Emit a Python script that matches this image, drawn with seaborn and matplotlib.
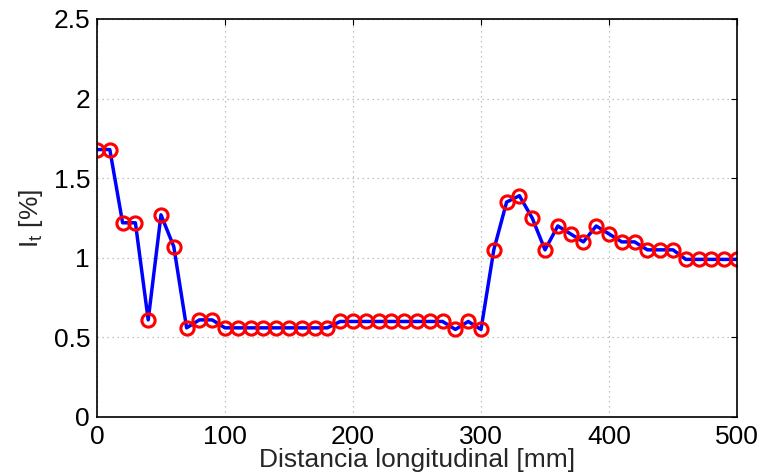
import matplotlib
matplotlib.use("Agg")
import matplotlib.pyplot as plt
import seaborn as sns
import pandas as pd

# Longitudinal distance along the specimen [mm]
distancia = [0, 10, 20, 30, 40, 50, 60, 70, 80, 90,
             100, 110, 120, 130, 140, 150, 160, 170, 180, 190,
             200, 210, 220, 230, 240, 250, 260, 270, 280, 290,
             300, 310, 320, 330, 340, 350, 360, 370, 380, 390,
             400, 410, 420, 430, 440, 450, 460, 470, 480, 490, 500]

# Turbulence intensity I_t [%]
intensidad = [1.68, 1.68, 1.22, 1.22, 0.61, 1.27, 1.07, 0.56, 0.61, 0.61,
              0.56, 0.56, 0.56, 0.56, 0.56, 0.56, 0.56, 0.56, 0.56, 0.60,
              0.60, 0.60, 0.60, 0.60, 0.60, 0.60, 0.60, 0.60, 0.55, 0.60,
              0.55, 1.05, 1.35, 1.39, 1.25, 1.05, 1.20, 1.15, 1.10, 1.20,
              1.15, 1.10, 1.10, 1.05, 1.05, 1.05, 0.99, 0.99, 0.99, 0.99, 0.99]

x_ticks = [0, 100, 200, 300, 400, 500]
y_ticks = [0, 0.5, 1, 1.5, 2, 2.5]
y_tick_labels = ["0", "0.5", "1", "1.5", "2", "2.5"]

df = pd.DataFrame({"distancia": distancia, "intensidad": intensidad})

sns.set_style("white")
plt.rcParams["font.family"] = ["Liberation Sans", "DejaVu Sans"]
plt.rcParams["mathtext.fontset"] = "custom"
plt.rcParams["mathtext.rm"] = "Liberation Sans"
plt.rcParams["mathtext.it"] = "Liberation Sans"

fig = plt.figure(figsize=(7.61, 4.76), dpi=100)
ax = fig.add_axes([97 / 761, 1 - 417 / 476, 640 / 761, 398 / 476])

sns.lineplot(data=df, x="distancia", y="intensidad", ax=ax,
             color="#0000ff", linewidth=2.5, marker="o", markersize=9.5,
             markerfacecolor="none", markeredgecolor="#ff0000",
             markeredgewidth=2.2, estimator=None, sort=False)

ax.set_xlim(0, 500)
ax.set_ylim(0, 2.5)
ax.set_xticks(x_ticks)
ax.set_xticklabels([str(t) for t in x_ticks])
ax.set_yticks(y_ticks)
ax.set_yticklabels(y_tick_labels)

ax.grid(True, color="#b0b0b0", linestyle=(0, (1, 3)), linewidth=0.9)
for side in ["top", "right", "bottom", "left"]:
    ax.spines[side].set_visible(True)
    ax.spines[side].set_color("black")
    ax.spines[side].set_linewidth(1.2)

ax.tick_params(axis="both", direction="in", length=4, width=0.8,
               labelsize=19, colors="black", top=True, right=True)
ax.tick_params(axis="x", pad=6)
ax.tick_params(axis="y", pad=5)

ax.set_xlabel("Distancia longitudinal [mm]", fontsize=19, labelpad=-1)
ax.set_ylabel(r"I$_{\mathrm{t}}$ [%]", fontsize=19, labelpad=6)

fig.savefig("out.png", dpi=100, facecolor="white")
